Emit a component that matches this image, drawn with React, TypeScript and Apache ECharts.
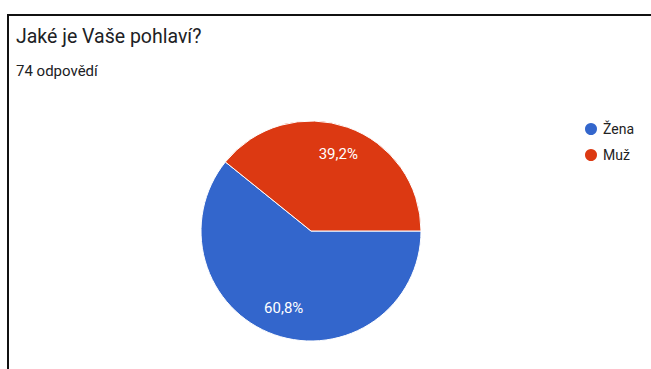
import React, { useEffect, useRef } from "react";
import * as echarts from "echarts";

const categories = ["Žena", "Muž"];
const values = [60.8, 39.2];
const labels = ["60,8%", "39,2%"];
const colors = ["#3366CC", "#DC3912"];
const titleText = "Jaké je Vaše pohlaví?";
const subtitleText = "74 odpovědí";

export default function App() {
  const ref = useRef<HTMLDivElement>(null);
  useEffect(() => {
    if (!ref.current) return;
    const chart = echarts.init(ref.current, undefined, { renderer: "svg" });
    const data = categories.map((name, i) => ({
      name,
      value: values[i],
      itemStyle: { color: colors[i] },
    }));
    const labelData = categories.map((name, i) => ({
      name,
      value: values[i],
      label: { formatter: labels[i] },
    }));
    chart.setOption({
      animation: false,
      textStyle: { fontFamily: "Roboto, Arial, sans-serif" },
      title: [
        {
          text: titleText,
          left: 11,
          top: 21,
          textStyle: { fontSize: 19.5, fontWeight: "normal", color: "#202124" },
        },
        {
          text: subtitleText,
          left: 11,
          top: 58,
          textStyle: { fontSize: 15, fontWeight: "normal", color: "#202124" },
        },
      ],
      legend: {
        orient: "vertical",
        left: 578,
        top: 116,
        icon: "circle",
        itemWidth: 14,
        itemHeight: 14,
        itemGap: 10,
        data: categories.map((name, i) => ({ name, itemStyle: { color: colors[i] } })),
        textStyle: { fontSize: 14, color: "#222222" },
        selectedMode: false,
      },
      graphic: [
        { type: "rect", shape: { x: 7, y: 14, width: 644, height: 2 }, style: { fill: "#111" } },
        { type: "rect", shape: { x: 7, y: 14, width: 2, height: 355 }, style: { fill: "#111" } },
      ],
      series: [
        {
          type: "pie",
          center: [311, 231],
          radius: [0, 110],
          startAngle: 0,
          clockwise: true,
          data,
          label: { show: false },
          labelLine: { show: false },
          itemStyle: { borderColor: "#fff", borderWidth: 1 },
          silent: true,
        },
        {
          type: "pie",
          center: [311, 231],
          radius: [48, 110],
          startAngle: 0,
          clockwise: true,
          data: labelData,
          itemStyle: { color: "rgba(0,0,0,0)" },
          label: {
            show: true,
            position: "inside",
            color: "#ffffff",
            fontSize: 15,
            textBorderWidth: 0,
          },
          labelLine: { show: false },
          silent: true,
        },
      ],
    });
    return () => chart.dispose();
  }, []);
  return (
    <div
      ref={ref}
      style={{ position: "absolute", left: 0, top: 0, width: 651, height: 369, background: "#fff" }}
    />
  );
}
